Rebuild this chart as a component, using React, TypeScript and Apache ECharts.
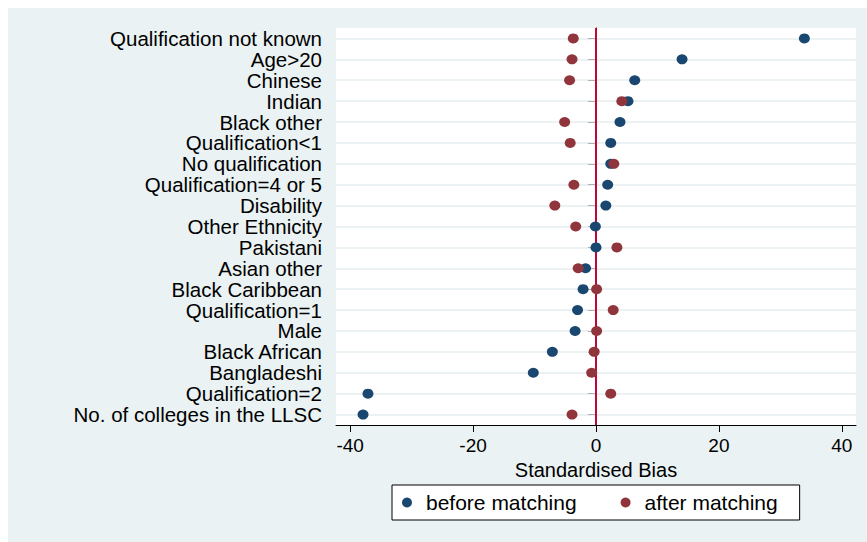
import React, { useEffect, useRef } from "react";
import * as echarts from "echarts";

const categories = [
  "Qualification not known",
  "Age>20",
  "Chinese",
  "Indian",
  "Black other",
  "Qualification<1",
  "No qualification",
  "Qualification=4 or 5",
  "Disability",
  "Other Ethnicity",
  "Pakistani",
  "Asian other",
  "Black Caribbean",
  "Qualification=1",
  "Male",
  "Black African",
  "Bangladeshi",
  "Qualification=2",
  "No. of colleges in the LLSC",
];

const beforeMatching = [
  33.9, 14.0, 6.3, 5.2, 3.9, 2.4, 2.4, 1.9, 1.6, -0.1, 0.0, -1.7, -2.1, -3.0,
  -3.4, -7.1, -10.2, -37.1, -37.9,
];

const afterMatching = [
  -3.7, -3.9, -4.3, 4.2, -5.1, -4.2, 2.9, -3.6, -6.7, -3.3, 3.4, -2.9, 0.1, 2.8,
  0.1, -0.3, -0.7, 2.4, -3.9,
];

const xTicks = [-40, -20, 0, 20, 40];

const FONT = "'Liberation Sans', Arial, Helvetica, sans-serif";

export default function App() {
  const ref = useRef<HTMLDivElement>(null);

  useEffect(() => {
    if (!ref.current) return;
    const chart = echarts.init(ref.current, undefined, { renderer: "svg" });
    chart.setOption({
      animation: false,
      backgroundColor: "#eaf2f3",
      textStyle: { fontFamily: FONT },
      grid: {
        left: 328,
        top: 20,
        width: 520,
        height: 397,
        show: true,
        backgroundColor: "#ffffff",
        borderWidth: 0,
      },
      legend: {
        left: 384,
        top: 477,
        orient: "horizontal",
        backgroundColor: "#ffffff",
        borderColor: "#000000",
        borderWidth: 1,
        borderRadius: 0,
        padding: [7, 22, 7, 10],
        itemGap: 44,
        itemWidth: 10,
        itemHeight: 10,
        icon: "circle",
        textStyle: {
          fontSize: 21,
          color: "#000",
          fontFamily: FONT,
          padding: [0, 0, 0, 9],
        },
        data: ["before matching", "after matching"],
      },
      xAxis: {
        type: "value",
        min: -42.3,
        max: 42.3,
        name: "Standardised Bias",
        nameLocation: "middle",
        nameGap: 27,
        nameTextStyle: { fontSize: 20, color: "#000", fontFamily: FONT },
        axisLine: { show: true, lineStyle: { color: "#000", width: 1 } },
        axisTick: {
          show: true,
          length: 7,
          customValues: xTicks,
          lineStyle: { color: "#000", width: 1 },
        },
        axisLabel: {
          customValues: xTicks,
          fontSize: 19,
          color: "#000",
          margin: 11,
          fontFamily: FONT,
        },
        splitLine: { show: false },
      },
      yAxis: {
        type: "category",
        inverse: true,
        data: categories,
        axisLine: { show: true, lineStyle: { color: "#000", width: 1 } },
        axisTick: {
          show: true,
          alignWithLabel: true,
          interval: 0,
          length: 8,
          lineStyle: { color: "#000", width: 1 },
        },
        axisLabel: {
          interval: 0,
          fontSize: 20.5,
          color: "#000",
          margin: 14,
          fontFamily: FONT,
        },
        splitLine: { show: false },
      },
      series: [
        {
          name: "grid",
          type: "line",
          data: [],
          silent: true,
          z: 1,
          markLine: {
            silent: true,
            symbol: ["none", "none"],
            label: { show: false },
            animation: false,
            data: [
              ...categories.map((c) => ({
                yAxis: c,
                lineStyle: { color: "#e6eef0", width: 1.5, type: "solid" },
              })),
              {
                xAxis: 0,
                lineStyle: { color: "#c10534", width: 2, type: "solid" },
              },
            ],
          },
        },
        {
          name: "before matching",
          type: "scatter",
          symbol: "circle",
          symbolSize: [11, 10],
          z: 10,
          itemStyle: { color: "#1a476f", opacity: 1 },
          data: beforeMatching.map((v, i) => [v, categories[i]]),
        },
        {
          name: "after matching",
          type: "scatter",
          symbol: "circle",
          symbolSize: [11, 10],
          z: 11,
          itemStyle: { color: "#90353b", opacity: 1 },
          data: afterMatching.map((v, i) => [v, categories[i]]),
        },
      ],
    });
    return () => chart.dispose();
  }, []);

  return (
    <div
      ref={ref}
      style={{
        position: "absolute",
        left: 8,
        top: 8,
        width: 859,
        height: 534,
      }}
    />
  );
}
